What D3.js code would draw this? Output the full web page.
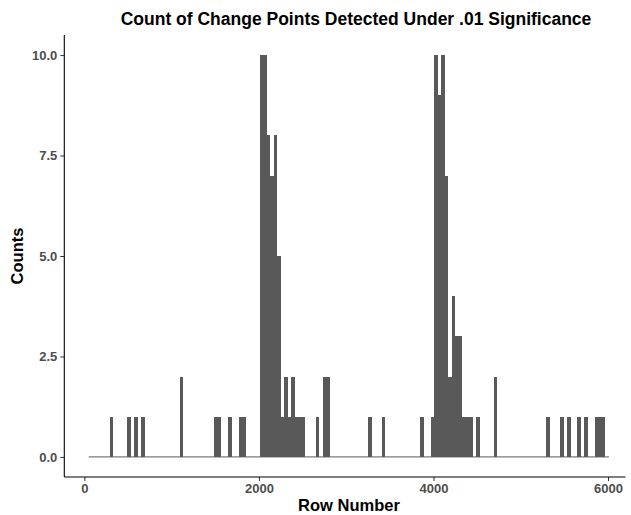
<!DOCTYPE html>
<html><head><meta charset="utf-8">
<script src="https://cdn.jsdelivr.net/npm/d3@7"></script>
<style>body{margin:0;background:#fff}</style>
</head><body>
<svg id="chart" width="631" height="515"></svg>
<script>
// Histogram bins (row number where each non-empty bin starts) and their counts
const binStarts = [290, 490, 570, 650, 1090, 1490, 1530, 1650, 1770, 1810,
  2010, 2050, 2090, 2130, 2170, 2210, 2250, 2290, 2330, 2370, 2410, 2450, 2490, 2650, 2730, 2770,
  3250, 3410, 3850, 3970, 4010, 4050, 4090, 4130, 4170, 4210, 4250, 4290, 4330, 4370, 4410, 4490, 4690,
  5290, 5450, 5530, 5650, 5730, 5850, 5890, 5930];
const counts = [1, 1, 1, 1, 2, 1, 1, 1, 1, 1,
  10, 10, 8, 7, 8, 5, 1, 2, 1, 2, 1, 1, 1, 1, 2, 2,
  1, 1, 1, 1, 10, 9, 10, 7, 2, 4, 3, 3, 1, 1, 1, 1, 2,
  1, 1, 1, 1, 1, 1, 1, 1];
const binWidth = 40;
const binRange = [50, 6010];
const xTicks = [0, 2000, 4000, 6000];
const yTicks = [0, 2.5, 5, 7.5, 10];
const titleText = "Count of Change Points Detected Under .01 Significance";
const xLabel = "Row Number";
const yLabel = "Counts";

const svg = d3.select("#chart");
const panel = {left: 64.3, right: 625.5, top: 35, bottom: 477};
const x = d3.scaleLinear().domain([-230, 6200]).range([panel.left, panel.right]);
const y = d3.scaleLinear().domain([-0.5, 10.5]).range([panel.bottom, panel.top]);
const fill = "#595959";
const font = "'Liberation Sans', Arial, Helvetica, sans-serif";

const data = binStarts.map((s, i) => ({x0: s, x1: s + binWidth, n: counts[i]}));

// baseline of zero-height bins
svg.append("line")
  .attr("x1", x(binRange[0])).attr("x2", x(binRange[1]))
  .attr("y1", y(0)).attr("y2", y(0))
  .attr("stroke", fill).attr("stroke-width", 1);

svg.append("g").attr("shape-rendering", "crispEdges")
  .selectAll("rect").data(data).join("rect")
  .attr("x", d => x(d.x0))
  .attr("width", d => x(d.x1) - x(d.x0))
  .attr("y", d => y(d.n))
  .attr("height", d => y(0) - y(d.n))
  .attr("fill", fill);

// axes
const gx = svg.append("g").attr("transform", `translate(0,${panel.bottom})`)
  .call(d3.axisBottom(x).tickValues(xTicks).tickSize(4).tickPadding(3).tickFormat(d3.format("d")));
const gy = svg.append("g").attr("transform", `translate(${panel.left},0)`)
  .call(d3.axisLeft(y).tickValues(yTicks).tickSize(4).tickPadding(3).tickFormat(d3.format(".1f")));
[gx, gy].forEach(g => {
  g.select(".domain").remove();
  g.selectAll(".tick line").attr("stroke", "#333333").attr("stroke-width", 1);
  g.selectAll(".tick text").attr("fill", "#4d4d4d")
    .style("font-family", font).style("font-size", "13px").style("font-weight", "bold");
});

svg.append("line").attr("x1", panel.left).attr("x2", panel.right)
  .attr("y1", panel.bottom).attr("y2", panel.bottom).attr("stroke", "#000").attr("stroke-width", 1.1);
svg.append("line").attr("x1", panel.left).attr("x2", panel.left)
  .attr("y1", panel.top).attr("y2", panel.bottom).attr("stroke", "#000").attr("stroke-width", 1.1);

// titles
svg.append("text").attr("x", 356).attr("y", 25)
  .attr("text-anchor", "middle").style("font-family", font).style("font-size", "17.5px")
  .style("font-weight", "bold").attr("fill", "#000").text(titleText);
svg.append("text").attr("x", 349).attr("y", 511)
  .attr("text-anchor", "middle").style("font-family", font).style("font-size", "16.5px")
  .style("font-weight", "bold").attr("fill", "#000").text(xLabel);
svg.append("text").attr("transform", `translate(23,${(panel.top + panel.bottom) / 2}) rotate(-90)`)
  .attr("text-anchor", "middle").style("font-family", font).style("font-size", "16.5px")
  .style("font-weight", "bold").attr("fill", "#000").text(yLabel);
</script>
</body></html>
